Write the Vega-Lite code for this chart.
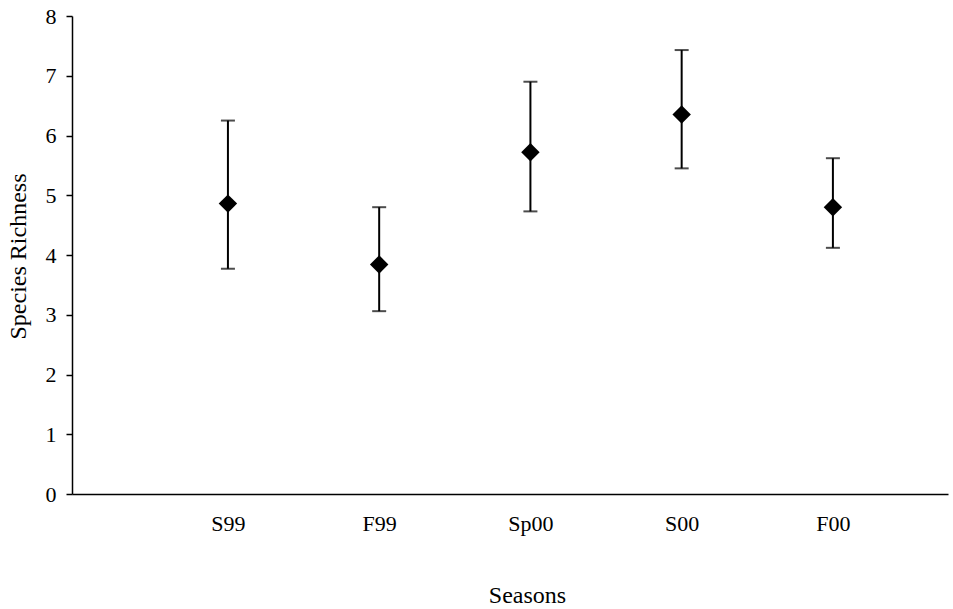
{
  "$schema": "https://vega.github.io/schema/vega-lite/v6.json",
  "width": 876,
  "height": 478,
  "autosize": {"type": "none"},
  "padding": {"left": 72, "top": 16, "right": 5, "bottom": 115},
  "background": "white",
  "config": {
    "view": {"stroke": null},
    "font": "Liberation Serif",
    "axis": {
      "labelFont": "Liberation Serif",
      "titleFont": "Liberation Serif",
      "labelFontSize": 22,
      "titleFontSize": 24,
      "titleFontWeight": "normal",
      "labelColor": "black",
      "titleColor": "black",
      "domainColor": "black",
      "domainWidth": 1.5,
      "tickColor": "black",
      "grid": false
    }
  },
  "data": {
    "values": [
      {"season": "S99", "idx": 1, "mean": 4.86, "lower": 3.77, "upper": 6.25},
      {"season": "F99", "idx": 2, "mean": 3.84, "lower": 3.06, "upper": 4.8},
      {"season": "Sp00", "idx": 3, "mean": 5.72, "lower": 4.73, "upper": 6.9},
      {"season": "S00", "idx": 4, "mean": 6.35, "lower": 5.45, "upper": 7.43},
      {"season": "F00", "idx": 5, "mean": 4.8, "lower": 4.12, "upper": 5.62}
    ]
  },
  "encoding": {
    "x": {
      "field": "idx",
      "type": "quantitative",
      "scale": {"domain": [-0.031, 5.761], "nice": false, "zero": false},
      "axis": {
        "title": "Seasons",
        "values": [1, 2, 3, 4, 5],
        "labelExpr": "['','S99','F99','Sp00','S00','F00'][datum.value]",
        "ticks": false,
        "labelPadding": 19,
        "titleAnchor": "start",
        "titleX": 455,
        "titleAlign": "center",
        "titleY": 89,
        "titleBaseline": "top"
      }
    }
  },
  "layer": [
    {
      "mark": {"type": "rule", "color": "black", "strokeWidth": 2},
      "encoding": {
        "y": {
          "field": "lower",
          "type": "quantitative",
          "scale": {"domain": [0, 8], "nice": false},
          "axis": {
            "title": "Species Richness",
            "values": [0, 1, 2, 3, 4, 5, 6, 7, 8],
            "format": "d",
            "labelFontSize": 22,
            "tickSize": 6,
            "tickWidth": 1.5,
            "labelPadding": 10,
            "titleAnchor": "start",
            "titleX": -54,
            "titleY": 240,
            "titleAngle": 270,
            "titleAlign": "center",
            "titleBaseline": "middle"
          }
        },
        "y2": {"field": "upper"}
      }
    },
    {
      "mark": {"type": "tick", "orient": "horizontal", "color": "black", "size": 14, "thickness": 2},
      "encoding": {"y": {"field": "upper", "type": "quantitative"}}
    },
    {
      "mark": {"type": "tick", "orient": "horizontal", "color": "black", "size": 14, "thickness": 2},
      "encoding": {"y": {"field": "lower", "type": "quantitative"}}
    },
    {
      "mark": {"type": "point", "shape": "diamond", "filled": true, "color": "black", "opacity": 1, "size": 340},
      "encoding": {"y": {"field": "mean", "type": "quantitative"}}
    }
  ]
}
